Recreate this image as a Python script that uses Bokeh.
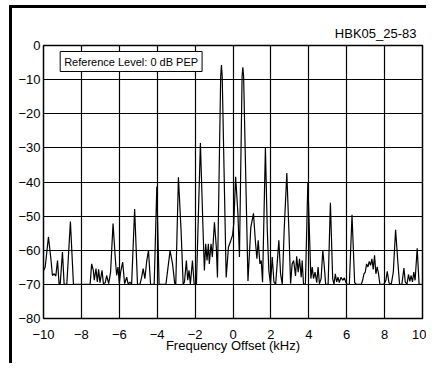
from bokeh.plotting import figure
from bokeh.models import FixedTicker, Label
from bokeh.embed import file_html
from bokeh.resources import INLINE

# Spectrum trace (frequency offset kHz, level dB PEP)
freq = [
    -10.0, -9.91, -9.74, -9.61, -9.53, -9.44, -9.35, -9.26, -9.18, -9.12,
    -9.0, -8.91, -8.77, -8.58, -8.42, -7.54, -7.46, -7.37, -7.32, -7.23,
    -7.16, -7.09, -7.02, -6.91, -6.84, -6.74, -6.67, -6.56, -6.46, -6.33,
    -6.21, -6.14, -6.07, -6.0, -5.93, -5.82, -5.72, -5.61, -5.53, -5.44,
    -5.35, -5.19, -5.04, -4.91, -4.82, -4.74, -4.65, -4.56, -4.46, -4.35,
    -4.16, -4.02, -3.90, -3.54, -3.32, -3.19, -3.07, -3.02, -2.88, -2.74,
    -2.63, -2.56, -2.46, -2.39, -2.32, -2.25, -2.14, -2.05, -1.93, -1.72,
    -1.58, -1.51, -1.44, -1.37, -1.30, -1.25, -1.16, -1.09, -0.98, -0.88,
    -0.82, -0.65, -0.61, -0.57, -0.36, -0.24, -0.12, -0.02, 0.04, 0.14,
    0.26, 0.34, 0.48, 0.52, 0.56, 0.79, 0.94, 1.08, 1.18, 1.26,
    1.33, 1.42, 1.49, 1.56, 1.71, 1.81, 1.89, 1.98, 2.07, 2.16,
    2.25, 2.42, 2.51, 2.60, 2.70, 2.84, 2.95, 3.04, 3.12, 3.20,
    3.30, 3.36, 3.44, 3.51, 3.60, 3.65, 3.72, 3.82, 3.95, 4.11,
    4.18, 4.25, 4.33, 4.42, 4.49, 4.56, 4.65, 4.74, 4.82, 4.89,
    5.02, 5.14, 5.26, 5.33, 5.40, 5.47, 5.54, 5.61, 5.70, 5.79,
    5.88, 5.96, 6.04, 6.14, 6.28, 6.42, 6.53, 6.77, 6.84, 6.91,
    6.98, 7.05, 7.12, 7.19, 7.26, 7.33, 7.40, 7.47, 7.54, 7.61,
    7.68, 7.75, 7.96, 8.07, 8.14, 8.23, 8.35, 8.46, 8.58, 8.70,
    8.79, 8.91, 9.02, 9.09, 9.18, 9.26, 9.33, 9.40, 9.47, 9.54,
    9.61, 9.72, 9.82, 10.0,
]
level = [
    -66, -64.9, -56.1, -62.5, -67.4, -66.9, -67.6, -63, -69.8, -70,
    -60.5, -70, -70, -51.6, -70, -70, -64, -65.9, -68.8, -65.4,
    -69.3, -65.6, -69.5, -65.9, -69.8, -69.5, -67.4, -69.8, -66.4, -52.2,
    -62.5, -67.4, -64.9, -69.8, -66.4, -63.5, -69.8, -67.9, -70, -69.3,
    -70, -47.9, -70, -70, -67.9, -65.4, -68.3, -63.5, -60, -70,
    -70, -41.3, -70, -70, -60.1, -64, -70, -70, -38.6, -54.2,
    -70, -69.3, -63, -68.8, -65.9, -70, -63, -70, -70, -28.6,
    -54.2, -65.9, -58.1, -63, -58.1, -64, -58.1, -62, -51.8, -59.1,
    -68, -9, -5.7, -9, -68, -59.1, -57.2, -55.5, -52.2, -38.5,
    -49.3, -62, -9, -6.4, -9, -69, -53.3, -49.2, -57.2, -62.5,
    -57.1, -64, -63, -69.4, -30, -54.2, -65.9, -70, -62, -69.3,
    -70, -57.1, -66.9, -70, -54.2, -37.4, -54.2, -69.8, -64, -63,
    -67.5, -61.8, -66.4, -62.5, -67.9, -63, -69.8, -70, -40.1, -68.3,
    -64.9, -68.3, -66.4, -69.5, -64.9, -69.8, -68.3, -60, -64.9, -70,
    -70, -46.1, -68.3, -70, -66.9, -69.3, -67.9, -69.5, -67.9, -68.8,
    -68.1, -69.5, -70, -70, -49.6, -69.5, -70, -70, -68.8, -66.9,
    -66.4, -64, -64.9, -63.3, -64.4, -62.5, -65.6, -61.5, -66.9, -64.9,
    -66.9, -70, -70, -68.8, -66.2, -69.5, -70, -66.4, -54, -63.5,
    -70, -70, -65.2, -69.3, -70, -67.1, -69.1, -67.4, -69.3, -66.4,
    -68.8, -59.4, -70, -70,
]

x_ticks = [-10, -8, -6, -4, -2, 0, 2, 4, 6, 8, 10]
y_ticks = [-80, -70, -60, -50, -40, -30, -20, -10, 0]
x_title = "Frequency Offset (kHz)"
fig_id = "HBK05_25-83"
ref_note = "Reference Level: 0 dB PEP"

FONT = "Liberation Sans"

p = figure(width=417, height=358, x_range=(-10, 10), y_range=(-80, 0),
           output_backend="svg", toolbar_location=None,
           min_border_left=31, min_border_right=7,
           min_border_top=37, min_border_bottom=48)
p.styles = {"margin-left": "9px", "margin-top": "5px",
            "border-left": "3px solid black", "border-top": "3px solid black"}
p.background_fill_color = "white"
p.border_fill_color = "white"
p.outline_line_color = "black"
p.outline_line_width = 1.5

p.title.text = fig_id
p.title.align = "right"
p.title.offset = 6
p.title.standoff = 10
p.title.text_font = FONT
p.title.text_font_size = "13px"
p.title.text_font_style = "normal"
p.title.text_color = "black"

def fmt(v):
    return str(v).replace("-", "\u2212")

p.xaxis.ticker = FixedTicker(ticks=x_ticks)
p.yaxis.ticker = FixedTicker(ticks=y_ticks)
p.xaxis.major_label_overrides = {v: fmt(v) for v in x_ticks}
p.yaxis.major_label_overrides = {v: fmt(v) for v in y_ticks}
p.xgrid.ticker = FixedTicker(ticks=x_ticks)
p.ygrid.ticker = FixedTicker(ticks=y_ticks)

for ax in (p.xaxis, p.yaxis):
    ax.axis_line_color = None
    ax.major_tick_line_color = None
    ax.minor_tick_line_color = None
    ax.major_tick_out = 0
    ax.major_tick_in = 0
    ax.major_label_text_font = FONT
    ax.major_label_text_font_size = "13px"
    ax.major_label_text_color = "black"

p.yaxis.major_label_standoff = 3
p.xaxis.major_label_standoff = 11
p.xaxis.axis_label = x_title
p.xaxis.axis_label_text_font = FONT
p.xaxis.axis_label_text_font_size = "13px"
p.xaxis.axis_label_text_font_style = "normal"
p.xaxis.axis_label_text_color = "black"
p.xaxis.axis_label_standoff = -4

for g in (p.xgrid, p.ygrid):
    g.grid_line_color = "black"
    g.grid_line_width = 1.2
    g.grid_line_alpha = 1.0

p.line(freq, level, line_color="black", line_width=1.2)

p.add_layout(Label(x=-9.12, y=-1.76, text=ref_note,
                   text_align="left", text_baseline="top",
                   text_font=FONT, text_font_size="11px", text_color="black",
                   padding=4, border_line_color="black", border_line_width=1,
                   background_fill_color="white"))

open("out.html", "w").write(file_html(p, INLINE))
